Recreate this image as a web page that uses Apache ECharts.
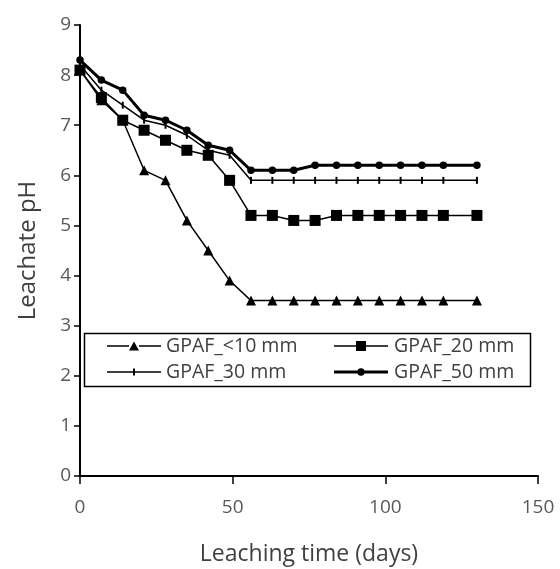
<!DOCTYPE html>
<html><head><meta charset="utf-8">
<script src="https://cdn.jsdelivr.net/npm/echarts@6/dist/echarts.min.js"></script>
<style>html,body{margin:0;padding:0;background:#fff}#c{width:560px;height:569px}</style>
</head><body><div id="c"></div>
<script>
const days = [0,7,14,21,28,35,42,49,56,63,70,77,84,91,98,105,112,119,130];
const ph10 = [8.1,7.5,7.1,6.1,5.9,5.1,4.5,3.9,3.5,3.5,3.5,3.5,3.5,3.5,3.5,3.5,3.5,3.5,3.5];
const ph20 = [8.1,7.55,7.1,6.9,6.7,6.5,6.4,5.9,5.2,5.2,5.1,5.1,5.2,5.2,5.2,5.2,5.2,5.2,5.2];
const ph30 = [8.2,7.7,7.4,7.1,7.0,6.8,6.5,6.4,5.9,5.9,5.9,5.9,5.9,5.9,5.9,5.9,5.9,5.9,5.9];
const ph50 = [8.3,7.9,7.7,7.2,7.1,6.9,6.6,6.5,6.1,6.1,6.1,6.2,6.2,6.2,6.2,6.2,6.2,6.2,6.2];
const names = ['GPAF_<10 mm','GPAF_20 mm','GPAF_30 mm','GPAF_50 mm'];
const xTicks = [0,50,100,150];
const yTicks = [0,1,2,3,4,5,6,7,8,9];

const pair = a => days.map((d,i)=>[d,a[i]]);
const font = '"Open Sans", "Noto Sans", sans-serif';
const chart = echarts.init(document.getElementById('c'));
const mk = (name, data, symbol, size, lw) => ({
  name, type:'line', data: pair(data), symbol, symbolSize: size,
  lineStyle:{color:'#000', width: lw}, itemStyle:{color:'#000'},
  emphasis:{disabled:true}, animation:false
});
// legend icons: line + marker, in a 54x10 box
const thinL = 'M0,4.3 L22,4.3 L22,5.7 L0,5.7 Z M32,4.3 L54,4.3 L54,5.7 L32,5.7 Z ';
const icons = [
  'path://' + thinL + 'M22,9.6 L27,0.6 L32,9.6 Z M0,0 L0.01,0 L0.01,0.01 Z M0,10 L0.01,10 L0.01,9.99 Z',
  'path://' + thinL + 'M22,0 L32,0 L32,10 L22,10 Z',
  'path://' + 'M0,4.3 L26,4.3 L26,5.7 L0,5.7 Z M28,4.3 L54,4.3 L54,5.7 L28,5.7 Z M26,1.5 L28,1.5 L28,8.5 L26,8.5 Z M0,0 L0.01,0 L0.01,0.01 Z M0,10 L0.01,10 L0.01,9.99 Z',
  'path://' + 'M0,3.5 L24,3.5 L24,6.5 L0,6.5 Z M30,3.5 L54,3.5 L54,6.5 L30,6.5 Z M23.3,5 A3.7,3.7 0 1,1 30.7,5 A3.7,3.7 0 1,1 23.3,5 Z M0,0 L0.01,0 L0.01,0.01 Z M0,10 L0.01,10 L0.01,9.99 Z'
];
const legText = {fontFamily:font, fontSize:19.5, color:'#404040', padding:[0,0,0,0]};
chart.setOption({
  animation:false,
  grid:{left:80, right:22, top:25, bottom:93, containLabel:false, outerBoundsMode:'none'},
  xAxis:{type:'value', min:0, max:150, interval:50,
    name:'Leaching time (days)', nameLocation:'middle', nameGap:67,
    nameTextStyle:{fontFamily:font, fontSize:23, color:'#404040'},
    axisLine:{lineStyle:{color:'#000', width:2}},
    axisTick:{show:true, inside:false, length:8, lineStyle:{color:'#000', width:1.5}},
    axisLabel:{fontFamily:font, fontSize:19, color:'#595959', margin:22, formatter: v => xTicks.includes(v) ? String(v) : ''},
    splitLine:{show:false}},
  yAxis:{type:'value', min:0, max:9, interval:1,
    name:'Leachate pH', nameLocation:'middle', nameGap:40,
    nameTextStyle:{fontFamily:font, fontSize:24, color:'#404040'},
    axisLine:{show:true, lineStyle:{color:'#000', width:2}},
    axisTick:{show:true, inside:false, length:6, lineStyle:{color:'#000', width:1.5}},
    axisLabel:{fontFamily:font, fontSize:19, color:'#595959', margin:9, formatter: v => yTicks.includes(v) ? String(v) : ''},
    splitLine:{show:false}},
  legend:[
    {data:[{name:names[0], icon:icons[0]},{name:names[2], icon:icons[2]}], orient:'vertical', left:107, top:336,
     itemWidth:54, itemHeight:10, itemGap:6, padding:0, textStyle:legText, selectedMode:false, z:10},
    {data:[{name:names[1], icon:icons[1]},{name:names[3], icon:icons[3]}], orient:'vertical', left:334, top:336,
     itemWidth:56, itemHeight:10, itemGap:6, padding:0, textStyle:legText, selectedMode:false, z:10}
  ],
  graphic:[{type:'rect', shape:{x:84.5, y:333.5, width:446, height:53},
    style:{fill:'none', stroke:'#000', lineWidth:1.5}, z:1}],
  series:[
    mk(names[0], ph10, 'triangle', 10, 1.5),
    mk(names[1], ph20, 'rect', 11, 1.5),
    mk(names[2], ph30, 'rect', [2,7], 1.5),
    mk(names[3], ph50, 'circle', 7.5, 3)
  ]
});
</script></body></html>
